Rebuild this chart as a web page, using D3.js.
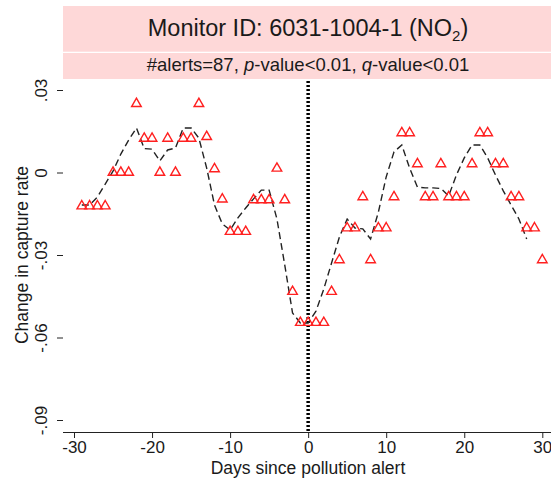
<!DOCTYPE html>
<html>
<head>
<meta charset="utf-8">
<script src="https://cdn.jsdelivr.net/npm/d3@7"></script>
<style>
  body { margin: 0; background: #fff; }
  text { font-family: "Liberation Sans", Arial, sans-serif; fill: #1a1a1a; }
</style>
</head>
<body>
<div id="chart"></div>
<script>
// Chart size
var w = 551;
var h = 480;

// Days (x values) for the red triangles
var days = d3.range(-29, 31);
// Change in capture rate per day
var capture = [
  -0.0122, -0.0122, -0.0122, -0.0122, 0, 0, 0, 0.025, 0.0124, 0.0124,
  0, 0.0124, 0, 0.0124, 0.0124, 0.025, 0.013, 0.0013, -0.0097, -0.0215,
  -0.0215, -0.0215, -0.0100, -0.0100, -0.0100, 0.0015, -0.0100, -0.0433, -0.0546, -0.0546,
  -0.0546, -0.0546, -0.0433, -0.0318, -0.0202, -0.0202, -0.0089, -0.0318, -0.0202, -0.0202,
  -0.0089, 0.0144, 0.0144, 0.0031, -0.0089, -0.0089, 0.0031, -0.0089, -0.0089, -0.0089,
  0.0031, 0.0144, 0.0144, 0.0031, 0.0031, -0.0089, -0.0089, -0.0202, -0.0202, -0.0318
];

// Smoothed (dashed) line
var smoothDays = d3.range(-29, 29);
var smooth = [
  -0.0118, -0.0118, -0.0089, -0.0042, 0.0005, 0.0067, 0.0118, 0.0162, 0.0087, 0.0085,
  0.0042, 0.0082, 0.0089, 0.0162, 0.0162, 0.0125, 0.0016, -0.0118, -0.0187, -0.0209,
  -0.0165, -0.0129, -0.0096, -0.0064, -0.0064, -0.0169, -0.0336, -0.0511, -0.0547, -0.0547,
  -0.0504, -0.0424, -0.0329, -0.0235, -0.0169, -0.0202, -0.0205, -0.0242, -0.0144, -0.0016,
  0.0075, 0.0100, 0.0016, -0.0053, -0.0056, -0.0056, -0.0058, -0.0085, -0.0009, 0.0053,
  0.0100, 0.0100, 0.0053, -0.0009, -0.0067, -0.0118, -0.0169, -0.0242
];

// Axis ticks
var xTicks = [-30, -20, -10, 0, 10, 20, 30];
var yTicks = [0.03, 0, -0.03, -0.06, -0.09];
var yTickLabels = [".03", "0", "-.03", "-.06", "-.09"];

var titleText = "Monitor ID: 6031-1004-1 (NO";
var subtitleParts = ["#alerts=87, ", "p", "-value<0.01, ", "q", "-value<0.01"];

var xScale = d3.scaleLinear().domain([-30, 30]).range([74, 542.3]);
var yScale = d3.scaleLinear().domain([-0.09, 0.03]).range([420, 90]);

var svg = d3.select("#chart")
    .append("svg")
    .attr("width", w)
    .attr("height", h);

// Title boxes
svg.append("rect").attr("x", 63).attr("y", 6).attr("width", w - 63).attr("height", 45.7).attr("fill", "#fed8d8");
svg.append("rect").attr("x", 63).attr("y", 53).attr("width", w - 63).attr("height", 26).attr("fill", "#fed8d8");

var title = svg.append("text")
    .attr("x", 308).attr("y", 36)
    .attr("text-anchor", "middle")
    .attr("font-size", "23.5px");
title.append("tspan").text(titleText);
title.append("tspan").attr("font-size", "15px").attr("dy", 5).text("2");
title.append("tspan").attr("dy", -5).text(")");

var sub = svg.append("text")
    .attr("x", 308).attr("y", 71)
    .attr("text-anchor", "middle")
    .attr("font-size", "18.5px");
subtitleParts.forEach(function(p) {
    var t = sub.append("tspan").text(p);
    if (p === "p" || p === "q") t.attr("font-style", "italic");
});

// X axis
var xAxis = svg.append("g")
    .attr("transform", "translate(0,432)")
    .call(d3.axisBottom(xScale).tickValues(xTicks).tickSize(6).tickSizeOuter(0).tickPadding(3)
        .tickFormat(function(d) { return String(d); }));
xAxis.select(".domain").attr("d", "M63,0.5H" + w).attr("stroke", "#222");
xAxis.selectAll(".tick line").attr("stroke", "#222");
xAxis.selectAll(".tick text").attr("font-size", "17px").attr("fill", "#1a1a1a").attr("font-family", "Liberation Sans, Arial, sans-serif");

svg.append("text")
    .attr("x", 308).attr("y", 474)
    .attr("text-anchor", "middle")
    .attr("font-size", "17.5px")
    .text("Days since pollution alert");

// Y axis (ticks only, labels rotated)
var yAxis = svg.append("g")
    .attr("transform", "translate(63,0)")
    .call(d3.axisLeft(yScale).tickValues(yTicks).tickSize(6).tickFormat(function(d, i) { return yTickLabels[i]; }));
yAxis.select(".domain").remove();
yAxis.selectAll(".tick line").attr("stroke", "#222");
yAxis.selectAll(".tick text")
    .attr("dy", 0)
    .attr("text-anchor", "middle")
    .attr("transform", "rotate(-90)")
    .attr("x", 0).attr("y", -16)
    .attr("font-size", "17px").attr("fill", "#1a1a1a").attr("font-family", "Liberation Sans, Arial, sans-serif");

svg.append("text")
    .attr("transform", "translate(28,255) rotate(-90)")
    .attr("text-anchor", "middle")
    .attr("font-size", "17.5px")
    .text("Change in capture rate");

// Vertical dotted line at day 0
svg.append("line")
    .attr("x1", xScale(0)).attr("x2", xScale(0))
    .attr("y1", 81).attr("y2", 431)
    .attr("stroke", "#000")
    .attr("stroke-width", 3.5)
    .attr("stroke-dasharray", "2,2");

// Dashed smoothed line
var line = d3.line()
    .x(function(d, i) { return xScale(smoothDays[i]); })
    .y(function(d) { return yScale(d); });
svg.append("path")
    .datum(smooth)
    .attr("d", line)
    .attr("fill", "none")
    .attr("stroke", "#222")
    .attr("stroke-width", 1.4)
    .attr("stroke-dasharray", "7,4");

// Triangles
var tri = d3.symbol().type(d3.symbolTriangle).size(40);
svg.selectAll("path.tri")
    .data(capture)
    .enter()
    .append("path")
    .attr("class", "tri")
    .attr("d", tri)
    .attr("transform", function(d, i) { return "translate(" + xScale(days[i]) + "," + yScale(d) + ")"; })
    .attr("fill", "none")
    .attr("stroke", "#ff2020")
    .attr("stroke-width", 1.4);
</script>
</body>
</html>
